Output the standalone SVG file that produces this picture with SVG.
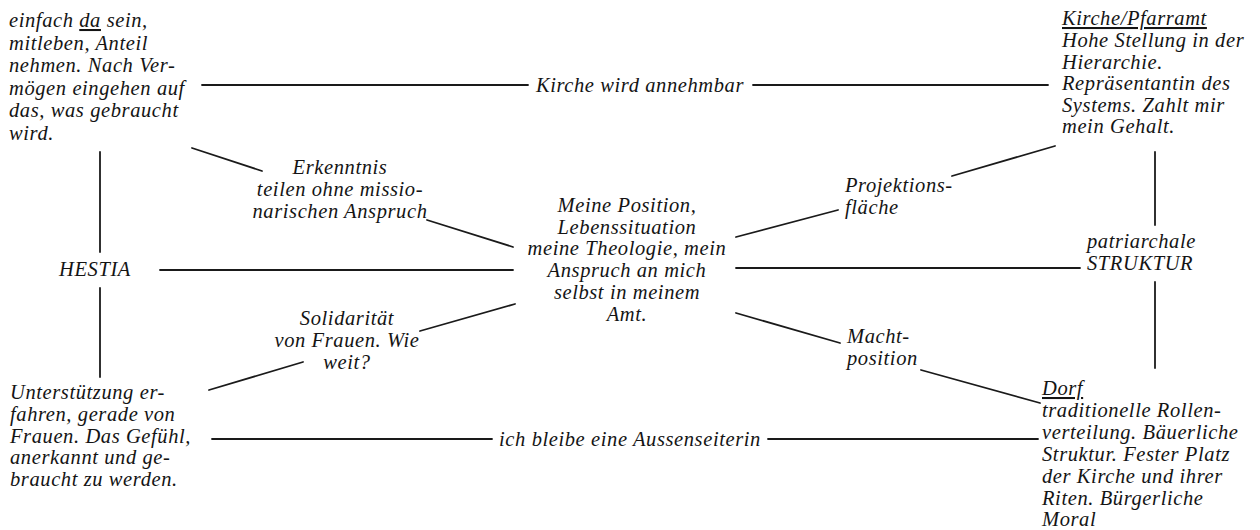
<svg xmlns="http://www.w3.org/2000/svg" width="1260" height="530" viewBox="0 0 1260 530">
<style>
text{font-family:"Liberation Serif","Times New Roman",serif;font-style:italic;font-size:20.5px;letter-spacing:0.6px;fill:#141414}
.c{text-anchor:middle}
.u{text-decoration:underline}
#connectors line{stroke:#1a1a1a;stroke-width:1.8;stroke-linecap:round}
</style>
<rect width="1260" height="530" fill="#ffffff"/>
<g id="connectors">
<line x1="202" y1="85" x2="528" y2="85"/>
<line x1="753" y1="85" x2="1048" y2="85"/>
<line x1="100" y1="152" x2="100" y2="252"/>
<line x1="100" y1="288" x2="100" y2="377"/>
<line x1="1155" y1="152" x2="1155" y2="225"/>
<line x1="1155" y1="282" x2="1155" y2="368"/>
<line x1="160" y1="270" x2="513" y2="270"/>
<line x1="736" y1="268" x2="1080" y2="268"/>
<line x1="212" y1="439" x2="492" y2="439"/>
<line x1="768" y1="439" x2="1038" y2="439"/>
<line x1="192" y1="148" x2="262" y2="171"/>
<line x1="427" y1="220" x2="513" y2="247"/>
<line x1="515" y1="304" x2="420" y2="331"/>
<line x1="303" y1="362" x2="209" y2="390"/>
<line x1="736" y1="237" x2="838" y2="210"/>
<line x1="952" y1="176" x2="1055" y2="146"/>
<line x1="736" y1="313" x2="840" y2="343"/>
<line x1="921" y1="370" x2="1040" y2="403"/>
<g id="edge-labels">
<text x="640" y="92" class="c">Kirche wird annehmbar</text>
<text x="630" y="446" class="c">ich bleibe eine Aussenseiterin</text>
<text class="c"><tspan x="340" y="174">Erkenntnis</tspan><tspan x="340" y="196">teilen ohne missio-</tspan><tspan x="340" y="218">narischen Anspruch</tspan></text>
<text class="c"><tspan x="347" y="325">Solidarität</tspan><tspan x="347" y="347">von Frauen. Wie</tspan><tspan x="347" y="369">weit?</tspan></text>
<text><tspan x="845" y="192">Projektions-</tspan><tspan x="845" y="214">fläche</tspan></text>
<text><tspan x="847" y="343">Macht-</tspan><tspan x="847" y="365">position</tspan></text>
</g>
</g>
<g id="node-top-left">
<text><tspan x="9" y="27">einfach <tspan class="u">da</tspan> sein,</tspan><tspan x="9" y="49.5">mitleben, Anteil</tspan><tspan x="9" y="72">nehmen. Nach Ver-</tspan><tspan x="9" y="94.5">mögen eingehen auf</tspan><tspan x="9" y="117">das, was gebraucht</tspan><tspan x="9" y="139.5">wird.</tspan></text>
</g>
<g id="node-kirche">
<text><tspan x="1062" y="25" class="u">Kirche/Pfarramt</tspan><tspan x="1062" y="47">Hohe Stellung in der</tspan><tspan x="1062" y="68.5">Hierarchie.</tspan><tspan x="1062" y="90">Repräsentantin des</tspan><tspan x="1062" y="111.5">Systems. Zahlt mir</tspan><tspan x="1062" y="133">mein Gehalt.</tspan></text>
</g>
<g id="node-hestia">
<text x="95" y="276" class="c">HESTIA</text>
</g>
<g id="node-center">
<text class="c"><tspan x="627" y="212">Meine Position,</tspan><tspan x="627" y="233.5">Lebenssituation</tspan><tspan x="627" y="255">meine Theologie, mein</tspan><tspan x="627" y="277">Anspruch an mich</tspan><tspan x="627" y="299">selbst in meinem</tspan><tspan x="627" y="321">Amt.</tspan></text>
</g>
<g id="node-struktur">
<text><tspan x="1087" y="248">patriarchale</tspan><tspan x="1087" y="270">STRUKTUR</tspan></text>
</g>
<g id="node-bottom-left">
<text><tspan x="10" y="399">Unterstützung er-</tspan><tspan x="10" y="421">fahren, gerade von</tspan><tspan x="10" y="442.5">Frauen. Das Gefühl,</tspan><tspan x="10" y="464">anerkannt und ge-</tspan><tspan x="10" y="485.5">braucht zu werden.</tspan></text>
</g>
<g id="node-dorf">
<text><tspan x="1042" y="395" class="u">Dorf</tspan><tspan x="1042" y="417">traditionelle Rollen-</tspan><tspan x="1042" y="439">verteilung. Bäuerliche</tspan><tspan x="1042" y="461">Struktur. Fester Platz</tspan><tspan x="1042" y="483">der Kirche und ihrer</tspan><tspan x="1042" y="505">Riten. Bürgerliche</tspan><tspan x="1042" y="526">Moral</tspan></text>
</g>
</svg>
